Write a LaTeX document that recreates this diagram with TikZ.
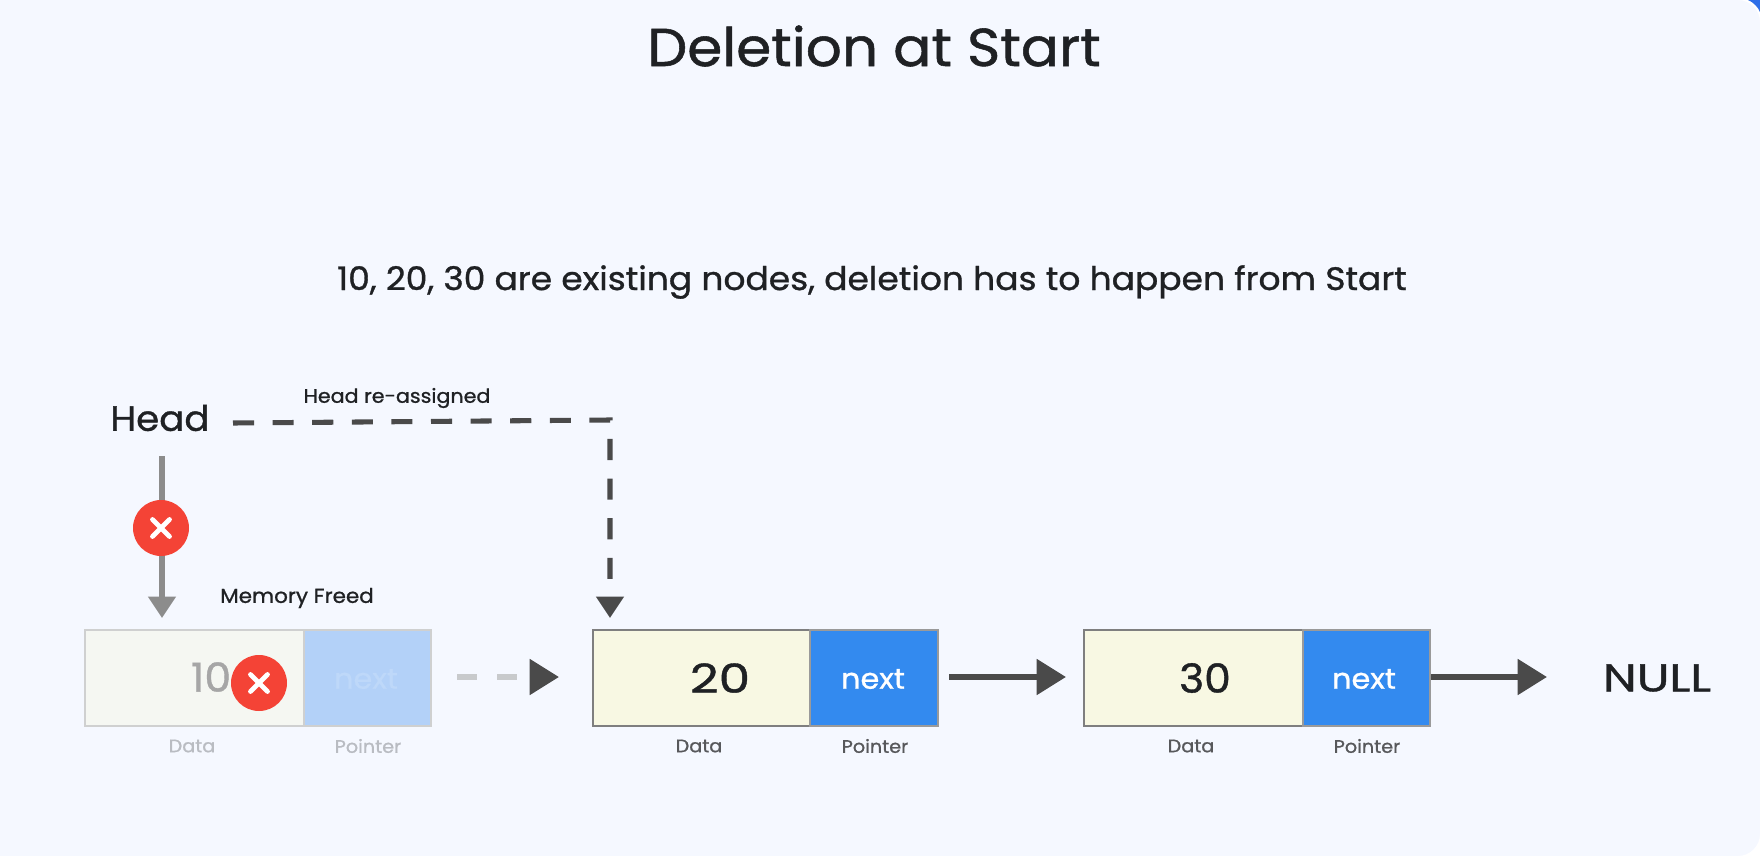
\documentclass[tikz,border=0pt]{standalone}
\usepackage{fontspec}
\setmainfont[FakeStretch=1.06,FakeBold=1.0]{Poppins}
\usetikzlibrary{arrows.meta}
\definecolor{pagebg}{HTML}{F5F8FF}
\definecolor{ink}{HTML}{1F2124}
\definecolor{arrowdark}{HTML}{4A4A4A}
\definecolor{arrowgrey}{HTML}{8C8C8C}
\definecolor{dashfaint}{HTML}{C8CACC}
\definecolor{datafill}{HTML}{F8F8E3}
\definecolor{nextfill}{HTML}{338AEF}
\definecolor{datafaint}{HTML}{F5F7F2}
\definecolor{nextfaint}{HTML}{B3D1F8}
\definecolor{edgedark}{HTML}{7F7F7F}
\definecolor{edgeptr}{HTML}{9A9A9A}
\definecolor{edgefaint}{HTML}{CFD0D0}
\definecolor{xred}{HTML}{F44336}
\definecolor{capfaint}{HTML}{B9BCC2}
\definecolor{cornerblue}{HTML}{2F6FE8}
\newcommand{\fs}[1]{\fontsize{#1}{#1}\selectfont}
\tikzset{
  x=0.75pt,y=-0.75pt,
  every node/.style={inner sep=0pt,outer sep=0pt},
  txt/.style={text=ink,anchor=center},
  cell/.style={minimum height=96*0.75pt,anchor=north west,draw,line width=2.2pt},
  dcell/.style={cell,fill=datafill,draw=edgedark},
  pcell/.style={cell,fill=nextfill,draw=edgeptr},
  dfaint/.style={cell,fill=datafaint,draw=edgefaint},
  pfaint/.style={cell,fill=nextfaint,draw=edgefaint},
  caption/.style={text=ink!75,font=\fs{13.6}},
  captionf/.style={text=capfaint,font=\fs{13.6}},
  xmark/.style={circle,fill=xred,minimum size=56*0.75pt},
  link/.style={draw=arrowdark,line width=4.6pt,-{Triangle[length=22pt,width=26pt,color=arrowdark]}},
}
\begin{document}
\begin{tikzpicture}
\useasboundingbox (0,0) rectangle (1760,856);
\fill[pagebg] (0,0) rectangle (1760,856);
% corners
\fill[white] (1738,0) .. controls (1750,0) and (1760,10) .. (1760,22) -- (1760,0) -- cycle;
\fill[white] (1760,834) -- (1760,856) -- (1738,856) .. controls (1750,856) and (1760,846) .. (1760,834) -- cycle;
\fill[cornerblue] (1748,0) .. controls (1753,2) and (1758,7) .. (1760,12) -- (1760,0) -- cycle;
% title
\node[txt,font=\fs{40}] (title) at (874,46) {Deletion at Start};
\node[txt,font=\fs{24.4}] (sub) at (872,282) {10, 20, 30 are existing nodes, deletion has to happen from Start};
% labels
\node[txt,font=\fs{26.3}] (head) at (160,418) {Head};
\node[txt,font=\fs{14.6}] (reass) at (397,398) {Head re-assigned};
\node[txt,font=\fs{15.2}] (freed) at (297,598) {Memory Freed};
% list node 1
\node[dfaint,minimum width=219*0.75pt] (d1) at (85,630) {};
\node[pfaint,minimum width=127*0.75pt] (p1) at (304,630) {};
\node[text=black!35,font=\fs{30}] (v1) at (211,677) {10};
\node[text=nextfaint!85!white,font=\fs{21.5}] (n1) at (366,679) {next};
\node[captionf] (c1) at (192,746) {Data};
\node[captionf] (q1) at (368,746) {Pointer};
% list node 2
\node[dcell,minimum width=217*0.75pt] (d2) at (593,630) {};
\node[pcell,minimum width=128*0.75pt] (p2) at (810,630) {};
\node[txt,font=\fs{30}\addfontfeature{FakeStretch=1.25}] (v2) at (720,678) {20};
\node[text=white,font=\fs{21.5}] (n2) at (873,679) {next};
\node[caption] (c2) at (699,746) {Data};
\node[caption] (q2) at (875,746) {Pointer};
% list node 3
\node[dcell,minimum width=219*0.75pt] (d3) at (1084,630) {};
\node[pcell,minimum width=127*0.75pt] (p3) at (1303,630) {};
\node[txt,font=\fs{30}] (v3) at (1205,678) {30};
\node[text=white,font=\fs{21.5}] (n3) at (1364,679) {next};
\node[caption] (c3) at (1191,746) {Data};
\node[caption] (q3) at (1367,746) {Pointer};
\node[txt,font=\fs{29}\addfontfeature{FakeStretch=1.25}] (null) at (1657,678) {NULL};
% connectors
\coordinate (hs) at (162,456);
\coordinate (he) at (162,618);
\draw[draw=arrowgrey,line width=4pt,-{Triangle[length=16pt,width=20pt,color=arrowgrey]}] (hs) -- (he);
\coordinate (ds) at (233,423);
\coordinate (dc) at (610,420);
\coordinate (de) at (610,618);
\draw[draw=arrowdark,line width=3.8pt,dash pattern=on 15.8pt off 13.9pt,-{Triangle[length=16pt,width=20pt,color=arrowdark]}] (ds) -- (dc) -- (de);
\coordinate (fs) at (457,677);
\coordinate (fe) at (559,677);
\draw[draw=dashfaint,line width=4.6pt,dash pattern=on 15pt off 15pt,-{Triangle[length=22pt,width=26pt,color=arrowdark]}] (fs) -- (fe);
\coordinate (a2s) at (949,677);
\coordinate (a2e) at (1066,677);
\draw[link] (a2s) -- (a2e);
\coordinate (a3s) at (1431,677);
\coordinate (a3e) at (1547,677);
\draw[link] (a3s) -- (a3e);
% red marks
\node[xmark] (x1) at (161,528) {};
\node[xmark] (x2) at (259,683) {};
\foreach \m in {x1,x2}{
  \draw[white,line width=3.6pt,line cap=round] ([shift={(-8.5,-8.5)}]\m.center) -- ([shift={(8.5,8.5)}]\m.center);
  \draw[white,line width=3.6pt,line cap=round] ([shift={(-8.5,8.5)}]\m.center) -- ([shift={(8.5,-8.5)}]\m.center);
}
\end{tikzpicture}
\end{document}
